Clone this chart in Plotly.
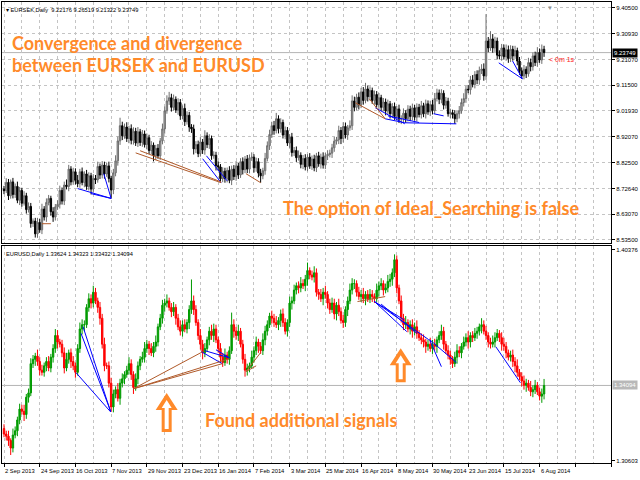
import plotly.graph_objects as go
from plotly.subplots import make_subplots

# ---------------- data ----------------
date_labels = ["2 Sep 2013", "24 Sep 2013", "16 Oct 2013", "7 Nov 2013", "29 Nov 2013",
               "23 Dec 2013", "16 Jan 2014", "7 Feb 2014", "3 Mar 2014", "25 Mar 2014",
               "16 Apr 2014", "8 May 2014", "30 May 2014", "23 Jun 2014", "15 Jul 2014",
               "6 Aug 2014"]
label_step = 16  # bars between date labels

sek_first_open = 8.725
sek_close = [
    8.719, 8.750, 8.700, 8.752, 8.705, 8.735, 8.683, 8.720, 8.672, 8.700,
    8.648, 8.660, 8.596, 8.605, 8.557, 8.600, 8.572, 8.650, 8.620, 8.675,
    8.690, 8.640, 8.620, 8.658, 8.668, 8.720, 8.680, 8.740, 8.735, 8.800,
    8.752, 8.790, 8.758, 8.745, 8.790, 8.750, 8.782, 8.735, 8.775, 8.725,
    8.765, 8.760, 8.810, 8.778, 8.815, 8.782, 8.812, 8.765, 8.722, 8.786,
    8.831, 8.906, 8.963, 8.925, 8.958, 8.915, 8.952, 8.908, 8.942, 8.898,
    8.940, 8.900, 8.932, 8.892, 8.918, 8.870, 8.890, 8.850, 8.878, 8.850,
    8.906, 8.951, 9.019, 9.056, 9.068, 9.032, 9.062, 9.022, 9.050, 9.000,
    9.028, 8.978, 9.002, 8.958, 8.951, 8.876, 8.892, 8.858, 8.902, 8.872,
    8.925, 8.892, 8.915, 8.850, 8.852, 8.813, 8.808, 8.764, 8.792, 8.765,
    8.795, 8.758, 8.800, 8.772, 8.812, 8.778, 8.828, 8.798, 8.838, 8.800,
    8.842, 8.845, 8.805, 8.828, 8.785, 8.775, 8.794, 8.840, 8.888, 8.930,
    8.963, 8.945, 8.989, 8.952, 8.975, 8.928, 8.945, 8.898, 8.920, 8.862,
    8.870, 8.843, 8.852, 8.818, 8.840, 8.808, 8.845, 8.812, 8.838, 8.805,
    8.850, 8.820, 8.845, 8.815, 8.850, 8.855, 8.860, 8.880, 8.905, 8.910,
    8.945, 8.915, 8.960, 8.928, 8.955, 8.963, 9.056, 9.032, 9.070, 9.042,
    9.090, 9.058, 9.101, 9.072, 9.095, 9.058, 9.080, 9.042, 9.068, 9.032,
    9.052, 9.018, 9.045, 9.008, 9.035, 8.998, 9.026, 8.988, 8.989, 9.010,
    8.990, 9.025, 8.998, 9.030, 8.995, 9.032, 9.005, 9.038, 9.008, 9.045,
    9.015, 9.042, 9.020, 9.065, 9.086, 9.062, 9.085, 9.040, 9.055, 9.008,
    9.012, 9.005, 8.989, 9.008, 9.019, 9.050, 9.065, 9.100, 9.098, 9.135,
    9.118, 9.155, 9.135, 9.170, 9.176, 9.150, 9.281, 9.255, 9.289, 9.255,
    9.281, 9.228, 9.225, 9.255, 9.222, 9.248, 9.215, 9.250, 9.225, 9.245,
    9.206, 9.169, 9.150, 9.175, 9.158, 9.200, 9.185, 9.225, 9.200, 9.238,
    9.210, 9.250, 9.23749,
]
# wick lengths above / below the body, in pips (0.0001)
sek_wick_up = [
    120, 160, 130, 90, 150, 110, 180, 130, 100, 170,
    110, 150, 130, 100, 120, 170, 130, 200, 110, 150,
    130, 100, 170, 110, 150, 180, 110, 130, 210, 160,
    110, 150, 130, 200, 110, 160, 100, 150, 130, 110,
    160, 130, 180, 110, 150, 130, 110, 160, 100, 150,
    210, 160, 300, 150, 130, 180, 110, 160, 150, 130,
    180, 110, 150, 130, 160, 110, 150, 100, 130, 160,
    110, 200, 160, 210, 220, 150, 180, 110, 160, 130,
    110, 180, 150, 130, 110, 160, 130, 150, 180, 110,
    210, 130, 160, 110, 150, 130, 160, 110, 150, 130,
    110, 160, 130, 150, 180, 110, 130, 160, 110, 150,
    130, 180, 110, 150, 130, 160, 110, 210, 160, 180,
    150, 180, 220, 130, 160, 110, 150, 130, 110, 160,
    130, 150, 180, 110, 130, 160, 110, 150, 130, 160,
    110, 150, 130, 180, 110, 160, 130, 150, 160, 110,
    180, 130, 160, 150, 110, 200, 210, 160, 130, 180,
    150, 180, 230, 130, 160, 110, 150, 130, 180, 110,
    150, 130, 160, 110, 130, 150, 110, 160, 130, 180,
    110, 150, 130, 160, 110, 150, 130, 180, 110, 160,
    130, 150, 180, 210, 160, 130, 150, 110, 160, 130,
    150, 110, 160, 130, 180, 150, 200, 130, 160, 150,
    180, 130, 160, 150, 180, 210, 1010, 150, 290, 180,
    160, 130, 180, 150, 130, 200, 160, 150, 130, 180,
    110, 150, 130, 160, 110, 180, 150, 130, 160, 200,
    150, 180, 130,
]
sek_wick_dn = [
    130, 90, 160, 110, 150, 130, 110, 180, 130, 90,
    150, 110, 160, 130, 140, 150, 110, 160, 130, 180,
    110, 150, 180, 130, 110, 160, 130, 150, 110, 180,
    130, 110, 160, 130, 150, 110, 180, 130, 150, 200,
    130, 160, 110, 150, 130, 180, 110, 150, 320, 160,
    130, 180, 150, 160, 110, 130, 180, 150, 160, 110,
    150, 130, 160, 110, 180, 130, 150, 210, 160, 110,
    150, 130, 180, 110, 150, 160, 130, 110, 180, 150,
    130, 160, 110, 180, 150, 210, 160, 130, 110, 150,
    180, 130, 160, 150, 110, 180, 150, 150, 130, 160,
    150, 110, 180, 130, 160, 150, 110, 180, 130, 150,
    160, 110, 180, 150, 160, 260, 130, 150, 110, 160,
    130, 160, 110, 180, 150, 130, 160, 110, 180, 150,
    130, 160, 110, 150, 180, 130, 160, 110, 150, 130,
    160, 110, 180, 130, 150, 160, 110, 180, 150, 130,
    160, 210, 150, 130, 180, 110, 160, 150, 110, 180,
    130, 160, 110, 180, 150, 130, 160, 110, 180, 130,
    150, 160, 110, 180, 150, 130, 160, 150, 190, 130,
    160, 110, 180, 150, 130, 160, 110, 150, 130, 180,
    110, 160, 150, 130, 110, 180, 150, 160, 130, 110,
    160, 150, 190, 130, 180, 110, 150, 160, 130, 180,
    110, 150, 160, 180, 130, 180, 150, 160, 110, 180,
    150, 160, 130, 180, 110, 150, 160, 130, 180, 110,
    160, 150, 110, 130, 160, 110, 180, 150, 130, 160,
    110, 150, 160,
]

usd_first_open = 1.3210
usd_close = [
    1.3185, 1.3175, 1.3155, 1.3120, 1.3180, 1.3200, 1.3250, 1.3300, 1.3290, 1.3275,
    1.3355, 1.3375, 1.3510, 1.3530, 1.3545, 1.3520, 1.3480, 1.3470, 1.3500, 1.3520,
    1.3490, 1.3540, 1.3580, 1.3640, 1.3610, 1.3600, 1.3560, 1.3490, 1.3530, 1.3560,
    1.3520, 1.3500, 1.3470, 1.3580, 1.3670, 1.3690, 1.3690, 1.3770, 1.3810, 1.3790,
    1.3840, 1.3800, 1.3770, 1.3720, 1.3600, 1.3500, 1.3500, 1.3420, 1.3310, 1.3370,
    1.3390, 1.3350, 1.3420, 1.3440, 1.3460, 1.3480, 1.3510, 1.3460, 1.3400, 1.3440,
    1.3500, 1.3530, 1.3540, 1.3580, 1.3600, 1.3580, 1.3560, 1.3590, 1.3610, 1.3680,
    1.3720, 1.3780, 1.3790, 1.3800, 1.3770, 1.3750, 1.3770, 1.3720, 1.3680, 1.3660,
    1.3690, 1.3670, 1.3700, 1.3760, 1.3800, 1.3760, 1.3700, 1.3640, 1.3600, 1.3560,
    1.3580, 1.3620, 1.3660, 1.3640, 1.3670, 1.3620, 1.3580, 1.3540, 1.3515, 1.3550,
    1.3530, 1.3570, 1.3690, 1.3660, 1.3640, 1.3660, 1.3600, 1.3530, 1.3480, 1.3490,
    1.3500, 1.3540, 1.3570, 1.3610, 1.3590, 1.3570, 1.3620, 1.3660, 1.3690, 1.3730,
    1.3720, 1.3700, 1.3690, 1.3710, 1.3740, 1.3700, 1.3660, 1.3700, 1.3790, 1.3800,
    1.3850, 1.3870, 1.3860, 1.3880, 1.3870, 1.3900, 1.3940, 1.3920, 1.3910, 1.3930,
    1.3840, 1.3830, 1.3810, 1.3840, 1.3830, 1.3790, 1.3760, 1.3790, 1.3740, 1.3780,
    1.3750, 1.3710, 1.3700, 1.3760, 1.3800, 1.3850, 1.3880, 1.3880, 1.3840, 1.3820,
    1.3830, 1.3810, 1.3830, 1.3810, 1.3830, 1.3820, 1.3810, 1.3850, 1.3870, 1.3880,
    1.3850, 1.3860, 1.3890, 1.3900, 1.3930, 1.3990, 1.3860, 1.3800, 1.3720, 1.3690,
    1.3700, 1.3670, 1.3690, 1.3660, 1.3680, 1.3650, 1.3630, 1.3620, 1.3610, 1.3590,
    1.3600, 1.3580, 1.3600, 1.3590, 1.3620, 1.3640, 1.3660, 1.3600, 1.3570, 1.3550,
    1.3530, 1.3510, 1.3540, 1.3570, 1.3560, 1.3590, 1.3610, 1.3630, 1.3610, 1.3640,
    1.3630, 1.3650, 1.3660, 1.3680, 1.3690, 1.3660, 1.3640, 1.3610, 1.3600, 1.3610,
    1.3630, 1.3650, 1.3630, 1.3600, 1.3590, 1.3560, 1.3540, 1.3550, 1.3520, 1.3500,
    1.3470, 1.3450, 1.3430, 1.3410, 1.3420, 1.3400, 1.3380, 1.3390, 1.3410, 1.3380,
    1.3360, 1.3370, 1.34094,
]
usd_wick_up = [
    20, 15, 25, 10, 30, 20, 15, 25, 20, 30,
    15, 20, 25, 20, 15, 30, 20, 25, 15, 20,
    25, 15, 20, 30, 25, 15, 20, 25, 30, 15,
    20, 25, 15, 20, 30, 25, 20, 15, 25, 20,
    30, 20, 15, 25, 20, 30, 15, 20, 25, 20,
    15, 30, 20, 25, 15, 20, 30, 20, 15, 25,
    20, 15, 25, 30, 20, 15, 25, 20, 30, 15,
    20, 25, 20, 30, 15, 20, 25, 15, 20, 30,
    20, 25, 15, 20, 99, 25, 20, 15, 30, 20,
    25, 15, 20, 30, 25, 20, 15, 25, 20, 30,
    15, 20, 56, 25, 20, 30, 15, 20, 25, 20,
    15, 30, 20, 25, 15, 20, 30, 25, 20, 15,
    25, 20, 30, 15, 20, 25, 20, 15, 30, 20,
    25, 15, 20, 30, 20, 20, 37, 15, 20, 30,
    20, 15, 25, 20, 30, 15, 20, 25, 20, 15,
    30, 20, 25, 15, 20, 30, 25, 20, 15, 25,
    20, 30, 15, 20, 25, 20, 15, 30, 20, 25,
    15, 20, 30, 25, 20, 25, 20, 15, 25, 20,
    30, 15, 20, 25, 20, 30, 15, 20, 25, 15,
    20, 30, 20, 25, 15, 20, 30, 20, 15, 25,
    20, 15, 25, 30, 20, 15, 25, 20, 30, 15,
    20, 25, 20, 15, 30, 20, 25, 15, 20, 30,
    25, 20, 15, 25, 30, 20, 15, 20, 25, 20,
    30, 15, 20, 25, 20, 15, 30, 20, 25, 15,
    20, 25, 30,
]
usd_wick_dn = [
    15, 20, 25, 32, 20, 15, 25, 20, 15, 30,
    20, 25, 15, 20, 30, 20, 25, 15, 20, 25,
    15, 20, 25, 20, 30, 15, 20, 25, 15, 20,
    30, 20, 25, 15, 20, 25, 30, 15, 20, 25,
    20, 15, 25, 30, 20, 25, 15, 20, 23, 25,
    20, 15, 30, 20, 25, 15, 20, 25, 30, 15,
    25, 20, 15, 25, 20, 30, 15, 20, 25, 20,
    15, 25, 30, 20, 15, 25, 20, 30, 15, 20,
    25, 15, 20, 30, 20, 25, 15, 20, 25, 30,
    20, 15, 25, 20, 30, 15, 20, 25, 20, 15,
    20, 25, 15, 30, 20, 25, 15, 20, 30, 25,
    20, 15, 25, 20, 30, 15, 20, 25, 20, 15,
    25, 20, 15, 25, 30, 20, 15, 25, 20, 30,
    15, 20, 25, 20, 15, 25, 30, 20, 15, 25,
    20, 25, 15, 30, 20, 25, 20, 15, 25, 30,
    20, 15, 25, 20, 30, 15, 20, 25, 20, 15,
    25, 20, 30, 15, 20, 25, 20, 15, 30, 20,
    25, 15, 20, 25, 30, 20, 25, 15, 20, 25,
    20, 15, 25, 30, 20, 25, 15, 20, 25, 30,
    20, 15, 25, 20, 30, 15, 20, 25, 15, 20,
    25, 20, 15, 30, 20, 25, 15, 20, 30, 25,
    20, 15, 25, 20, 30, 15, 20, 25, 20, 15,
    25, 15, 20, 30, 20, 25, 15, 20, 25, 30,
    20, 15, 25, 20, 30, 15, 20, 25, 20, 15,
    20, 31, 25,
]

# header values shown in the pane titles (open, high, low, close of last bar)
sek_header = [9.22176, 9.26519, 9.21322, 9.23749]
usd_header = [1.33624, 1.34323, 1.33432, 1.34094]

sek_ticks = [9.40500, 9.30930, 9.21070, 9.11500, 9.01930, 8.92070, 8.82500, 8.72640, 8.63070, 8.53500]
usd_ticks = [1.40376, 1.30603]

# divergence lines: (bar0, price0, bar1, price1)
sek_blue = [(33, 8.727, 48, 8.690), (39, 8.708, 48, 8.690), (44.7, 8.783, 48, 8.690),
            (89, 8.839, 97.3, 8.749), (90.7, 8.850, 100, 8.756),
            (166.4, 9.030, 179.6, 8.970), (170.8, 8.989, 179.6, 8.974), (172, 9.000, 186, 8.975),
            (179.6, 8.974, 202.7, 8.970), (192.5, 9.008, 197, 9.000),
            (221.7, 9.199, 232.3, 9.139), (227.9, 9.206, 232.3, 9.139)]
sek_brown = [(17, 8.595, 21, 8.595), (59, 8.861, 97.3, 8.749), (61, 8.869, 97.3, 8.752),
             (108.4, 8.783, 115, 8.749), (157.5, 9.049, 170.8, 8.989), (163.7, 9.064, 170.8, 8.989)]
usd_blue = [(32.3, 1.3468, 47.8, 1.3287), (35.4, 1.3681, 47.8, 1.3287), (34.5, 1.3650, 47.8, 1.3290),
            (88.5, 1.3565, 97.8, 1.3510), (95, 1.3574, 101, 1.3537), (90, 1.3570, 101, 1.3537),
            (166, 1.3797, 180.5, 1.3658), (166, 1.3797, 179.2, 1.3713), (166, 1.3797, 190.3, 1.3621),
            (169, 1.3785, 185, 1.3650), (190.7, 1.3621, 196, 1.3496), (190.7, 1.3621, 202.7, 1.3515),
            (220.4, 1.3588, 231.4, 1.3422)]
usd_brown = [(58, 1.3394, 89, 1.3565), (58, 1.3394, 97.8, 1.3510), (58, 1.3394, 101, 1.3533),
             (108.4, 1.3473, 115, 1.3561), (108.4, 1.3473, 113, 1.3500),
             (158.4, 1.3797, 170.8, 1.3820)]

for arr in (sek_close, sek_wick_up, sek_wick_dn, usd_close, usd_wick_up, usd_wick_dn):
    assert len(arr) == 243, len(arr)

# ---------------- build ----------------
def ohlc(first_open, close, wu, wd):
    o = [first_open] + close[:-1]
    h = [max(a, b) + u / 1e4 for a, b, u in zip(o, close, wu)]
    l = [min(a, b) - d / 1e4 for a, b, d in zip(o, close, wd)]
    return o, h, l

bars = list(range(len(sek_close)))
so, sh, sl = ohlc(sek_first_open, sek_close, sek_wick_up, sek_wick_dn)
uo, uh, ul = ohlc(usd_first_open, usd_close, usd_wick_up, usd_wick_dn)

fig = make_subplots(rows=2, cols=1, shared_xaxes=False, vertical_spacing=0.01)

fig.add_trace(go.Candlestick(x=bars, open=so, high=sh, low=sl, close=sek_close,
                             increasing=dict(line=dict(color="#6e6e6e", width=1), fillcolor="#a8a8a8"),
                             decreasing=dict(line=dict(color="#000000", width=1), fillcolor="#000000"),
                             whiskerwidth=0, hoverinfo="skip", showlegend=False), row=1, col=1)
fig.add_trace(go.Candlestick(x=bars, open=uo, high=uh, low=ul, close=usd_close,
                             increasing=dict(line=dict(color="#009a00", width=1), fillcolor="#00a000"),
                             decreasing=dict(line=dict(color="#ff0000", width=1), fillcolor="#ff0000"),
                             whiskerwidth=0, hoverinfo="skip", showlegend=False), row=2, col=1)

def seg_trace(segs, color, row):
    xs, ys = [], []
    for b0, p0, b1, p1 in segs:
        xs += [b0, b1, None]
        ys += [p0, p1, None]
    fig.add_trace(go.Scatter(x=xs, y=ys, mode="lines", line=dict(color=color, width=1),
                             hoverinfo="skip", showlegend=False), row=row, col=1)

seg_trace(sek_blue, "#0000ff", 1)
seg_trace(sek_brown, "#b05a2a", 1)
seg_trace(usd_blue, "#0000ff", 2)
seg_trace(usd_brown, "#b05a2a", 2)

# axes
TOP_DOM = [0.4762, 1.0]
BOT_DOM = [0.0, 0.4697]
FONT = "Liberation Sans, Arial"
GRID = "#c4c4c4"
xcommon = dict(range=[-0.9, 272], tickvals=list(range(0, 273, label_step)), showticklabels=False,
               showgrid=True, gridcolor=GRID, griddash="3px,3px", gridwidth=1,
               minor=dict(tickvals=list(range(label_step // 2, 273, label_step)), showgrid=True,
                          gridcolor=GRID, griddash="3px,3px", ticks=""),
               showline=True, linecolor="black", linewidth=1, mirror=True, zeroline=False,
               rangeslider=dict(visible=False), fixedrange=True)
fig.update_xaxes(**xcommon, ticks="", row=1, col=1)
fig.update_xaxes(**xcommon, ticks="outside", ticklen=3, tickcolor="black", row=2, col=1)
fig.update_yaxes(domain=TOP_DOM, range=[8.5208, 9.4275], side="right",
                 tickvals=sek_ticks, ticktext=[f"{v:.5f}" for v in sek_ticks],
                 ticks="outside", ticklen=3, tickcolor="black",
                 tickfont=dict(family=FONT, size=6, color="black"),
                 showgrid=True, gridcolor=GRID, griddash="3px,3px",
                 showline=True, linecolor="black", mirror=True, zeroline=False, row=1, col=1)
fig.update_yaxes(domain=BOT_DOM, range=[1.3051, 1.40515], side="right",
                 tickvals=usd_ticks, ticktext=[f"{v:.5f}" for v in usd_ticks],
                 ticks="outside", ticklen=3, tickcolor="black",
                 tickfont=dict(family=FONT, size=6, color="black"),
                 showgrid=False,
                 showline=True, linecolor="black", mirror=True, zeroline=False, row=2, col=1)

shapes = []
annotations = []

# current price lines + labels
for yref, val, bg, fg in (("y", sek_close[-1], "#000000", "white"), ("y2", usd_close[-1], "#b8b8b8", "white")):
    shapes.append(dict(type="line", xref="x domain" if yref == "y" else "x2 domain", yref=yref,
                       x0=0, x1=1, y0=val, y1=val, line=dict(color="#b4b4b4", width=1), layer="below"))
    annotations.append(dict(xref="paper", yref=yref, x=1.0, y=val, xanchor="left", yanchor="middle",
                            text=f"{val:.5f}", showarrow=False, bgcolor=bg, borderpad=1,
                            font=dict(family=FONT, size=6, color=fg), xshift=1))

# date labels (left aligned at their bar, like the terminal)
for k, lab in enumerate(date_labels):
    annotations.append(dict(xref="x2", yref="paper", x=k * label_step, y=0, xanchor="left", yanchor="top",
                            text=lab, showarrow=False, yshift=-3, xshift=-1,
                            font=dict(family=FONT, size=5.8, color="black")))

# pane headers
annotations.append(dict(xref="paper", yref="paper", x=0.003, y=0.993, xanchor="left", yanchor="top",
                        text="▾ EURSEK,Daily  " + " ".join(f"{v:.5f}" for v in sek_header),
                        showarrow=False, font=dict(family=FONT, size=5.7, color="black")))
annotations.append(dict(xref="paper", yref="paper", x=0.003, y=BOT_DOM[1] - 0.006, xanchor="left", yanchor="top",
                        text="EURUSD,Daily " + " ".join(f"{v:.5f}" for v in usd_header),
                        showarrow=False, font=dict(family=FONT, size=5.7, color="black")))
annotations.append(dict(xref="x", yref="y", x=243.5, y=sek_close[-1], xanchor="left", yanchor="top",
                        text="< 0m 1s", showarrow=False, yshift=-1,
                        font=dict(family=FONT, size=7, color="#ff2020")))
annotations.append(dict(xref="x", yref="paper", x=244.5, y=1.0, xanchor="center", yanchor="top",
                        text="▼", showarrow=False, font=dict(size=6, color="#909090")))

# orange captions
ORANGE = "#ff8a2a"
cap_font = dict(family="Lato, Open Sans, sans-serif", size=18, color=ORANGE)
for txt, x, y in (("Convergence and divergence", 0.013, 0.911),
                  ("between EURSEK and EURUSD", 0.013, 0.864),
                  ("The option of Ideal_Searching is false", 0.4577, 0.554),
                  ("Found additional signals", 0.3306, 0.0931)):
    annotations.append(dict(xref="paper", yref="paper", x=x, y=y, xanchor="left", yanchor="middle",
                            text=f"<b>{txt}</b>", showarrow=False, font=cap_font))

# up arrows
def arrow(xa, ya, h):
    outer = f"M -5,0 L 5,0 L 5,{h-17} L 11,{h-17} L 0,{h} L -11,{h-17} L -5,{h-17} Z"
    inner = f"M -2,3 L 2,3 L 2,{h-15} L 5,{h-15} L 0,{h-7} L -5,{h-15} L -2,{h-15} Z"
    for p, c in ((outer, ORANGE), (inner, "#ffffff")):
        shapes.append(dict(type="path", xref="paper", yref="paper", xsizemode="pixel", ysizemode="pixel",
                           xanchor=xa, yanchor=ya, path=p, fillcolor=c, line=dict(width=0), layer="above"))

arrow(0.2704, 0.0671, 39)
arrow(0.6547, 0.1753, 34)

fig.update_layout(width=640, height=480, margin=dict(l=2, r=24, t=1, b=17),
                  paper_bgcolor="white", plot_bgcolor="white", showlegend=False,
                  shapes=shapes, annotations=annotations, hovermode=False, boxgap=0.1)

fig.write_html("out.html", config={"displayModeBar": False, "staticPlot": True},
               post_script="document.body.style.margin='0';document.body.style.overflow='hidden';")
